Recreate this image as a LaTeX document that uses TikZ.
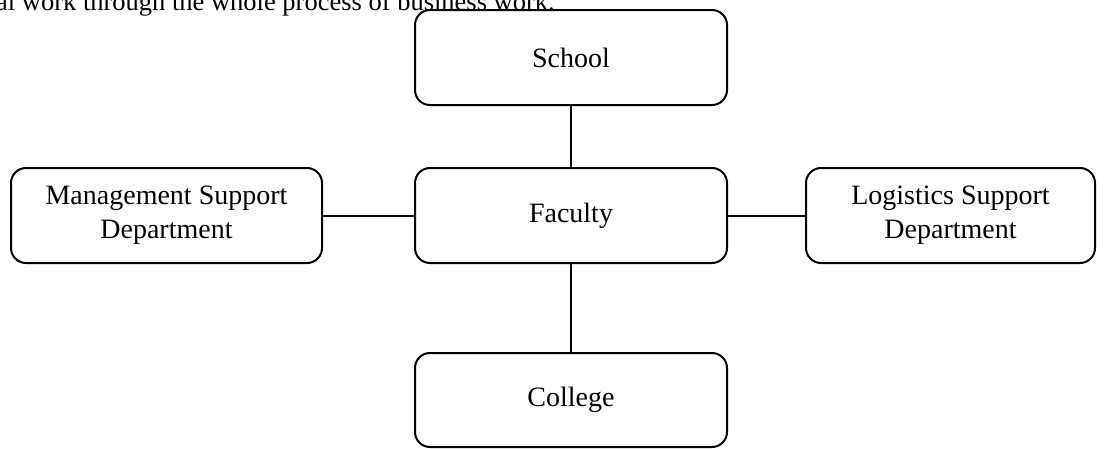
\documentclass[tikz,border=0pt]{standalone}
\usepackage{fontspec}
\setmainfont{Liberation Serif}
\begin{document}
\begin{tikzpicture}[x=1pt,y=-1pt,
  box/.style={draw, line width=2pt, rounded corners=15pt, align=center,
    font=\fontsize{28}{34}\selectfont, inner sep=0pt},
  link/.style={line width=2pt}]
\useasboundingbox (0,0) rectangle (1105,448);
\clip (0,0) rectangle (1105,448);
\node[anchor=base east, font=\fontsize{26.5}{32}\selectfont, inner sep=0pt] (top) at (555,10) {al work through the whole process of business work.};
\node[box, minimum width=312pt, minimum height=95pt] (school) at (571,57.5) {School};
\node[box, minimum width=312pt, minimum height=95pt] (faculty) at (571,215.5) {Faculty};
\node[box, minimum width=311pt, minimum height=95pt] (mgmt) at (166.5,215.5) {Management Support\\Department};
\node[box, minimum width=289pt, minimum height=95pt] (log) at (950.5,215.5) {Logistics Support\\Department};
\node[box, minimum width=312pt, minimum height=94pt] (college) at (571,400) {College};
\draw[link] (school) -- (faculty);
\draw[link] (mgmt) -- (faculty);
\draw[link] (faculty) -- (log);
\draw[link] (faculty) -- (college);
\end{tikzpicture}
\end{document}
